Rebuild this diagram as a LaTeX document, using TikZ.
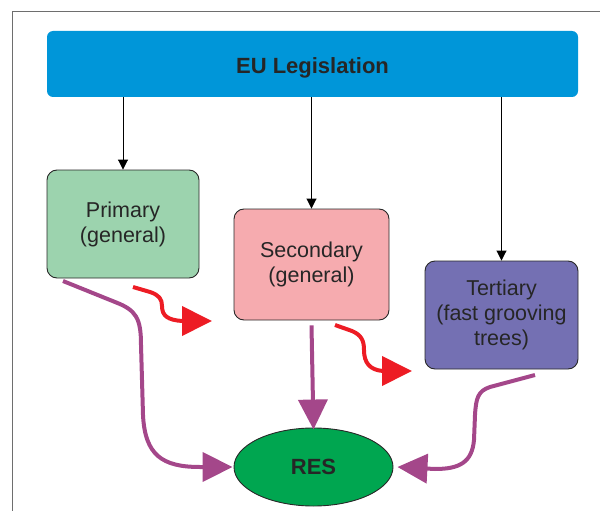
\documentclass[tikz,border=0pt]{standalone}
\usepackage{fontspec}
\setmainfont{Liberation Sans}
\usetikzlibrary{arrows.meta,shapes.geometric}
\definecolor{eublue}{RGB}{0,150,217}
\definecolor{primfill}{RGB}{156,211,174}
\definecolor{secfill}{RGB}{246,171,175}
\definecolor{terfill}{RGB}{116,112,179}
\definecolor{resgreen}{RGB}{0,166,80}
\definecolor{purp}{RGB}{164,71,138}
\definecolor{redarr}{RGB}{237,28,36}
\definecolor{frame}{RGB}{110,110,110}
\definecolor{edge}{RGB}{40,40,40}
\tikzset{
  box/.style={draw=edge, line width=0.9pt, rounded corners=10pt, align=center,
    font=\fontsize{21.5}{25}\selectfont, text=black!85, inner sep=0pt},
  thin arrow/.style={draw=black, line width=0.9pt, -{Triangle[length=10pt,width=10pt]}},
  fat purple/.style={draw=purp, line width=4pt, -{Triangle[length=30pt,width=29pt]}},
  fat red/.style={draw=redarr, line width=4pt, -{Triangle[length=30pt,width=29pt]}},
}
\begin{document}
\begin{tikzpicture}[x=1pt,y=-1pt]
\useasboundingbox (0,0) rectangle (600,511);
% frame
\draw[frame, line width=1pt] (12.5,511) -- (12.5,11.5) -- (600,11.5);
% nodes
\node[fill=eublue, rounded corners=6pt, minimum width=531pt, minimum height=66pt,
  inner sep=0pt, text height=20pt, text depth=0pt, font=\fontsize{22}{26}\selectfont\bfseries, text=black!85]
  (eu) at (312.5,64) {EU Legislation};
\node[box, fill=primfill, minimum width=152pt, minimum height=108pt] (prim) at (123,224)
  {Primary\\(general)};
\node[box, fill=secfill, minimum width=155pt, minimum height=111pt] (sec) at (311.5,264.5)
  {Secondary\\(general)};
\node[box, fill=terfill, minimum width=153pt, minimum height=108pt] (ter) at (501.5,315)
  {Tertiary\\(fast grooving\\trees)};
\node[ellipse, draw=edge, line width=0.9pt, fill=resgreen, minimum width=159pt,
  minimum height=78pt, inner sep=0pt, font=\fontsize{22}{26}\selectfont\bfseries,
  text=black!85] (res) at (313.5,467) {RES};
% thin arrows
\draw[thin arrow] (eu.south -| prim.north) -- (prim.north);
\draw[thin arrow] (eu.south -| sec.north) -- (sec.north);
\draw[thin arrow] (eu.south -| ter.north) -- (ter.north);
% purple connectors
\coordinate (p1) at (63,281);
\coordinate (p3) at (535,375);
\draw[fat purple] (p1) -- (115,302) .. controls (136,310) and (141,318) .. (141,345)
  -- (143,415) .. controls (145,455) and (162,467) .. (200,467) -- ([xshift=-1pt]res.west);
\draw[fat purple] ([yshift=-5pt]sec.south) -- ([yshift=-2pt]res.north);
\draw[fat purple] (p3) -- (490,387) .. controls (478,391) and (476,398) .. (475,415)
  -- (474,440) .. controls (472,462) and (460,469) .. (435,469) -- ([xshift=4pt]res.east);
% red arrows
\coordinate (r1) at (133,287);
\coordinate (r1e) at (212,321);
\coordinate (r2) at (335,325);
\coordinate (r2e) at (412,371);
\draw[fat red] (r1) -- (150,292) .. controls (159,295) and (162,299) .. (162,306)
  .. controls (162,316) and (168,320) .. (182,321) -- (r1e);
\draw[fat red] (r2) -- (352,331) .. controls (361,335) and (364,340) .. (364,350)
  .. controls (364,363) and (370,370) .. (383,371) -- (r2e);
\end{tikzpicture}
\end{document}
